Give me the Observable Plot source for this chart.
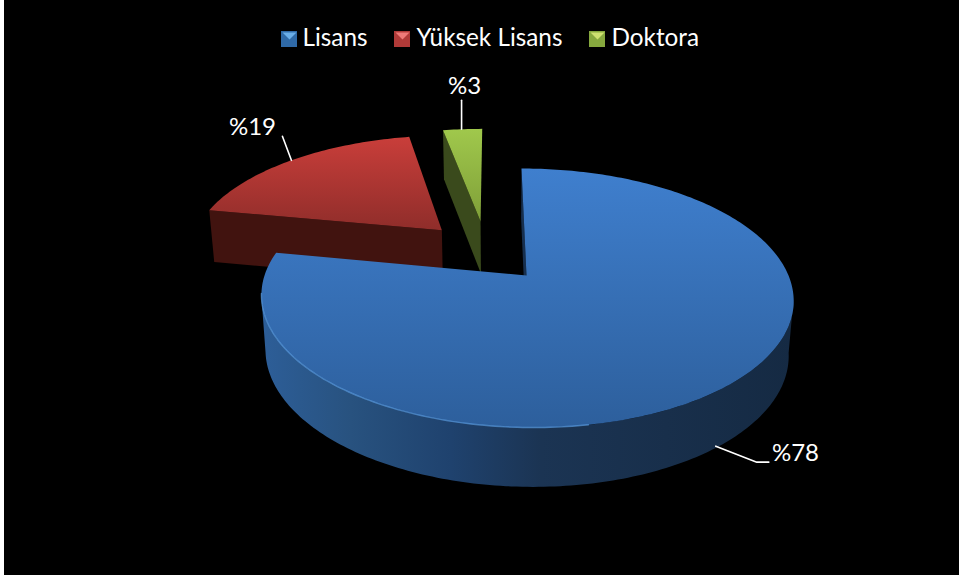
<!DOCTYPE html>
<html><head><meta charset="utf-8">
<script src="https://cdn.jsdelivr.net/npm/d3@7"></script>
<script src="https://cdn.jsdelivr.net/npm/@observablehq/plot@0.6"></script>
<style>html,body{margin:0;padding:0;background:#fff}svg{display:block}</style>
</head><body><div id="chart"></div>
<script>
const categories = ["Lisans", "Yüksek Lisans", "Doktora"];
const shares = [78, 19, 3];
const topColors = ["url(#topBlue)", "url(#topRed)", "url(#topGreen)"];
const wallColors = ["url(#wallBlue)", "#41130f", "#3a4a1c"];
const swatchColors = ["#2f6aa8", "#b03a38", "#86a83e"];
const swatchLights = ["#6aaee8", "#ee7a78", "#cde070"];
const explodeU = [0, -0.336, -0.179];
const explodeV = [0, 0.384, 0.465];
const legendSwatchX = [281, 394, 589];
const legendTextX = [302, 416, 611];
const anchorNudgeX = [-5, 0, -1];
const anchorNudgeY = [1, 0, 0];
const leaderDx = [[41, 16, 12], [-9, -24, 0], [0, -29, 0]];
const labelTextX = [795, 252, 464];
const labelTextY = [453, 127, 86];

const W = 959, H = 581;
const apexX = 526, apexY = 275, A = 262, B = 125.6, K = 0.174, SHEAR = -5.9;
function project(u, v) {
  const w = 1 / (1 + K * v);
  return {x: apexX + A * u * w + SHEAR * v * w, y: apexY - B * v * w};
}
function extrude(p) {
  return {x: p.x + (500 - p.x) * 0.017, y: p.y + 54 + 0.035 * (p.y - 275)};
}
function rim(i, deg) {
  const t = deg * Math.PI / 180;
  return project(Math.sin(t) + explodeU[i], Math.cos(t) + explodeV[i]);
}
const cum = d3.cumsum(shares);
const total = d3.sum(shares);
const starts = shares.map((s, i) => (cum[i] - s) / total * 360);
const ends = shares.map((s, i) => cum[i] / total * 360);
function arc(i, a0, a1) {
  const n = Math.max(2, Math.ceil(Math.abs(a1 - a0)));
  return d3.range(n + 1).map(k => rim(i, a0 + (a1 - a0) * k / n));
}
const apexOf = i => project(explodeU[i], explodeV[i]);
const topFace = i => [apexOf(i), ...arc(i, starts[i], ends[i])];

const blueRim = arc(0, 100, 260);
const blueWall = [...blueRim, ...blueRim.slice().reverse().map(extrude)];
function cutWall(i) {
  const a = rim(i, starts[i]), c = apexOf(i);
  return [a, c, extrude(c), extrude(a)];
}
const blueCut = (() => { const a = rim(0, 0), c = apexOf(0); return [a, c, extrude(c), extrude(a)]; })();
const highlight = arc(0, 170, 262);

const anchors = shares.map((s, i) => {
  const p = rim(i, (starts[i] + ends[i]) / 2);
  const q = i === 0 ? extrude(p) : p;
  return {x: q.x + anchorNudgeX[i], y: q.y + anchorNudgeY[i]};
});
const leaders = shares.flatMap((s, i) => {
  const a = anchors[i];
  const b = {x: a.x + leaderDx[i][0], y: a.y + leaderDx[i][1]};
  const c = {x: b.x + leaderDx[i][2], y: b.y};
  return [a, b, c].map(p => ({...p, i}));
});
const labels = shares.map((s, i) => ({text: "%" + s, x: labelTextX[i], y: labelTextY[i]}));
const legendY0 = 31, legendY1 = 47;
const legendRows = categories.map((c, i) => ({name: c, x: legendSwatchX[i], tx: legendTextX[i], fill: swatchColors[i]}));

const poly = (pts, fill, extra = {}) => Plot.line(pts, {x: "x", y: "y", fill, stroke: "none", z: null, ...extra});

function defs() {
  const d = d3.create("svg:defs");
  const vert = (id, a, b) => {
    const g = d.append("linearGradient").attr("id", id).attr("x1", 0).attr("y1", 0).attr("x2", 0).attr("y2", 1);
    g.append("stop").attr("offset", 0).attr("stop-color", a);
    g.append("stop").attr("offset", 1).attr("stop-color", b);
  };
  vert("topBlue", "#3f7fce", "#2d5f9c");
  vert("topRed", "#c93e3a", "#8f2d2a");
  vert("topGreen", "#a0c84c", "#7f9f38");
  const h = d.append("linearGradient").attr("id", "wallBlue").attr("gradientUnits", "userSpaceOnUse")
    .attr("x1", 262).attr("y1", 0).attr("x2", 792).attr("y2", 0);
  [[0, "#2d5e98"], [0.166, "#28527f"], [0.355, "#1f426e"], [0.525, "#1b3453"], [1, "#152a43"]].forEach(([o, c]) =>
    h.append("stop").attr("offset", o).attr("stop-color", c));
  return d.node();
}

const plot = Plot.plot({
  width: W, height: H,
  margin: 0,
  style: {background: "#fff"},
  x: {domain: [0, W], range: [0, W], axis: null},
  y: {domain: [0, H], range: [0, H], axis: null},
  marks: [
    defs,
    Plot.rect([{}], {x1: () => 4, x2: () => W, y1: () => 0, y2: () => 575, fill: "#000"}),
    poly(cutWall(2), wallColors[2]),
    poly(topFace(2), topColors[2]),
    poly(cutWall(1), wallColors[1]),
    poly(topFace(1), topColors[1]),
    poly(blueCut, "#172f4e"),
    poly(blueWall, wallColors[0]),
    poly(topFace(0), topColors[0]),
    Plot.line(highlight, {x: "x", y: "y", stroke: "#5a9be0", strokeWidth: 1.4, strokeOpacity: 0.7}),
    Plot.line(leaders, {x: "x", y: "y", z: "i", stroke: "#fff", strokeWidth: 1.6}),
    Plot.text(labels, {x: "x", y: "y", text: "text", fill: "#fff", fontSize: 24, fontFamily: "Lato", textAnchor: "middle", lineAnchor: "middle"}),
    Plot.rect(legendRows, {x1: "x", x2: d => d.x + 16, y1: () => legendY0, y2: () => legendY1, fill: "fill"}),
    ...legendRows.map((r, i) => poly(
      [{x: r.x + 1, y: legendY0 + 1}, {x: r.x + 15, y: legendY0 + 1}, {x: r.x + 8, y: legendY0 + 8}],
      swatchLights[i])),
    Plot.text(legendRows, {x: "tx", y: () => 38, text: "name", fill: "#fff", fontSize: 24.3, fontFamily: "Lato", textAnchor: "start", lineAnchor: "middle"})
  ]
});
document.getElementById("chart").append(plot);
</script>
</body></html>
